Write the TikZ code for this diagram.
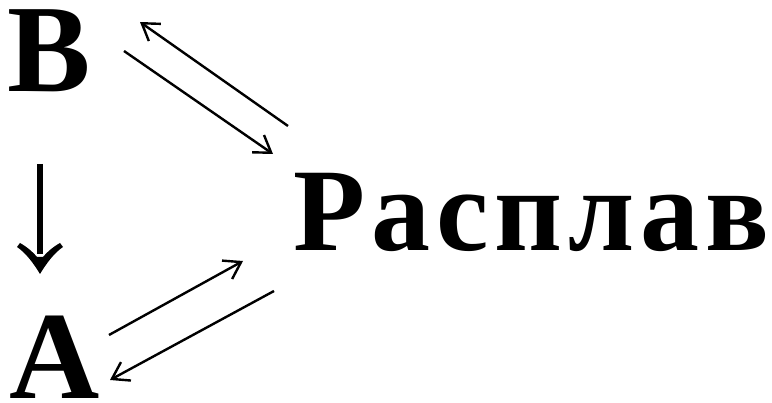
\documentclass[tikz,border=0pt]{standalone}
\usepackage{fontspec}
\setmainfont{Liberation Serif}[BoldFont={Liberation Serif Bold}]
\usetikzlibrary{arrows.meta}
\begin{document}
\begin{tikzpicture}[x=1pt,y=1pt,
  lbl/.style={font=\bfseries\fontsize{118}{118}\selectfont, inner sep=0pt, anchor=base west},
  big/.style={font=\bfseries\fontsize{125}{125}\selectfont},
  rx/.style={line width=2.4pt, -{Straight Barb[length=16pt,width=21pt,line width=2.4pt]}},
  shaft/.style={line width=6.5pt}]
\useasboundingbox (0,0) rectangle (772,-403);
\node[lbl,big] (B) at (7,-92) {B};
\node[lbl,big] (A) at (9,-399) {A};
\node[lbl] (M) at (293,-251) {Р\kern6pt а\kern6pt с\kern6pt п\kern6pt л\kern6pt а\kern6pt в};
\coordinate (b1) at (124,-51);  \coordinate (m1) at (273,-154);
\coordinate (m2) at (288,-126); \coordinate (b2) at (140,-22);
\coordinate (a1) at (109,-335); \coordinate (m3) at (243,-261);
\coordinate (m4) at (274,-291); \coordinate (a2) at (110,-380);
\coordinate (d1) at (40,-164);  \coordinate (d2) at (40,-274);
\draw[rx] (b1) -- (m1);
\draw[rx] (m2) -- (b2);
\draw[rx] (a1) -- (m3);
\draw[rx] (m4) -- (a2);
\draw[shaft] (d1) -- ([yshift=20pt]d2);
\fill[shift={(d2)}] (0,0) .. controls (-6,10) and (-14,21) .. (-23,27)
  -- (-20,31) .. controls (-13,27) and (-7,22) .. (-3,17) -- (3,17)
  .. controls (7,22) and (13,27) .. (20,31) -- (23,27)
  .. controls (14,21) and (6,10) .. (0,0) -- cycle;
\end{tikzpicture}
\end{document}
